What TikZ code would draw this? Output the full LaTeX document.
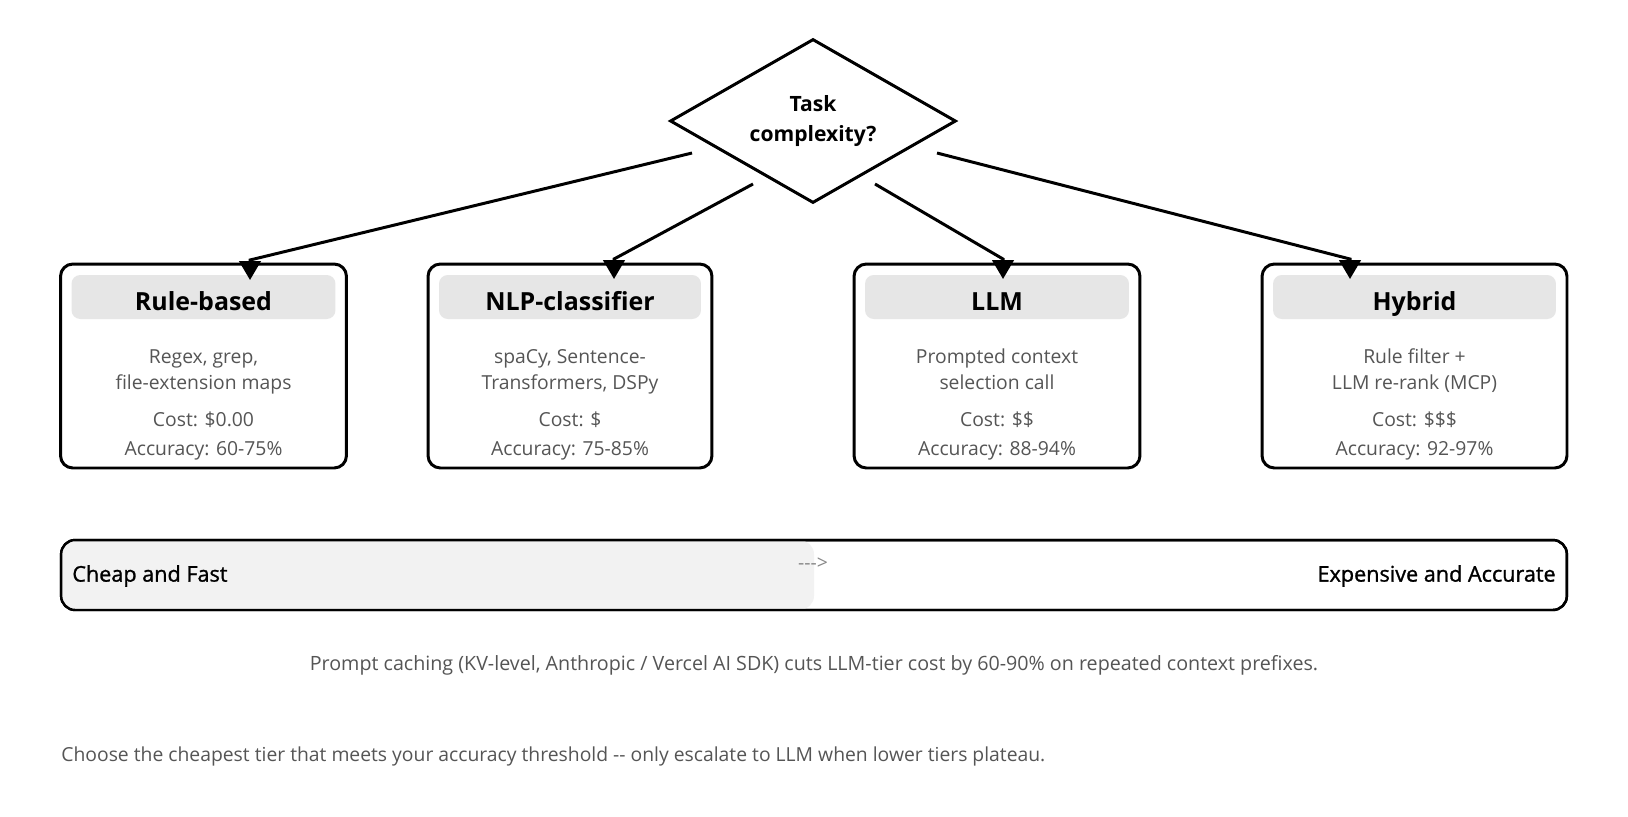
\documentclass[tikz,border=0pt]{standalone}
\usepackage{fontspec}
\setmainfont{Open Sans}
\newfontfamily\medfont[FakeBold=1.2]{Open Sans}
\usepackage{tikz}
\usetikzlibrary{arrows.meta,positioning,calc,shapes.geometric}
\definecolor{headgray}{HTML}{E6E6E6}
\definecolor{barfill}{HTML}{F2F2F2}
\definecolor{bodytext}{HTML}{555555}
\definecolor{hinttext}{HTML}{888888}
\tikzset{
  >={Triangle[length=3.8mm,width=4.3mm]},
  % beslut
  decide/.style={diamond,draw=black,line width=1.7pt,fill=white,inner sep=0pt,
                 aspect=1.744,minimum width=5.72cm,minimum height=3.28cm,
                 align=center,font=\fontsize{12}{17.6}\selectfont\bfseries},
  link/.style={->,draw=black,line width=1.7pt},
  % nivåer
  tier/.style={draw=black,line width=1.7pt,fill=white,rounded corners=7pt,
               minimum height=4.08cm,inner sep=0pt},
  tierhead/.style={fill=headgray,rounded corners=5pt,minimum height=0.88cm,inner sep=0pt},
  tiertitle/.style={anchor=base,font=\fontsize{14.2}{17}\selectfont\bfseries,inner sep=0pt},
  tiertext/.style={anchor=base,font=\fontsize{11}{13}\selectfont,text=bodytext,inner sep=0pt},
  % skala
  scalebar/.style={draw=black,line width=1.4pt,rounded corners=8pt,
                   minimum width=30.12cm,minimum height=1.4cm,inner sep=0pt},
  scaletext/.style={font=\fontsize{12.3}{14}\medfont,inner sep=0pt},
  note/.style={font=\fontsize{11.2}{13}\selectfont,text=bodytext,inner sep=0pt},
}
\begin{document}
\begin{tikzpicture}[x=0.02cm,y=-0.02cm]
  \useasboundingbox[fill=white] (0,0) rectangle (1628,816);
  % beslut
  \node[decide] (q) at (813,121) {Task\\complexity?};
  % nivåer
  \node[tier,minimum width=5.72cm] (rule) at (203.5,366) {};
  \node[tier,minimum width=5.68cm] (nlp) at (570,366) {};
  \node[tier,minimum width=5.72cm] (llm) at (997,366) {};
  \node[tier,minimum width=6.10cm] (hyb) at (1414.5,366) {};
  \node[tierhead,minimum width=5.28cm] (rule-h) at (203.5,297) {};
  \node[tierhead,minimum width=5.24cm] (nlp-h) at (570,297) {};
  \node[tierhead,minimum width=5.28cm] (llm-h) at (997,297) {};
  \node[tierhead,minimum width=5.66cm] (hyb-h) at (1414.5,297) {};
  \node[tiertitle] (rule-t) at (203.5,310) {Rule-based};
  \node[tiertitle] (nlp-t) at (570,310) {NLP-classifier};
  \node[tiertitle] (llm-t) at (997,310) {LLM};
  \node[tiertitle] (hyb-t) at (1414.5,310) {Hybrid};
  \node[tiertext] (rule-a) at (203.5,363) {Regex, grep,};
  \node[tiertext] (rule-b) at (203.5,389) {file-extension maps};
  \node[tiertext] (rule-c) at (203.5,426) {Cost: \$0.00};
  \node[tiertext] (rule-d) at (203.5,455) {Accuracy: 60-75\%};
  \node[tiertext] (nlp-a) at (570,363) {spaCy, Sentence-};
  \node[tiertext] (nlp-b) at (570,389) {Transformers, DSPy};
  \node[tiertext] (nlp-c) at (570,426) {Cost: \$};
  \node[tiertext] (nlp-d) at (570,455) {Accuracy: 75-85\%};
  \node[tiertext] (llm-a) at (997,363) {Prompted context};
  \node[tiertext] (llm-b) at (997,389) {selection call};
  \node[tiertext] (llm-c) at (997,426) {Cost: \$\$};
  \node[tiertext] (llm-d) at (997,455) {Accuracy: 88-94\%};
  \node[tiertext] (hyb-a) at (1414.5,363) {Rule filter +};
  \node[tiertext] (hyb-b) at (1414.5,389) {LLM re-rank (MCP)};
  \node[tiertext] (hyb-c) at (1414.5,426) {Cost: \$\$\$};
  \node[tiertext] (hyb-d) at (1414.5,455) {Accuracy: 92-97\%};
  % pilar
  \coordinate (s1) at (692,153);
  \coordinate (s2) at (753,184);
  \coordinate (s3) at (875,184);
  \coordinate (s4) at (937,153);
  \coordinate (t1) at (250,280);
  \coordinate (t2) at (614,279);
  \coordinate (t3) at (1003,279);
  \coordinate (t4) at (1350,279);
  \draw[link] (s1) -- ($(t1)+(0,-20)$) -- (t1);
  \draw[link] (s2) -- ($(t2)+(0,-20)$) -- (t2);
  \draw[link] (s3) -- ($(t3)+(0,-20)$) -- (t3);
  \draw[link] (s4) -- ($(t4)+(0,-20)$) -- (t4);
  % skala
  \node[scalebar] (bar) at (814,575) {};
  \fill[barfill,rounded corners=8pt] ($(bar.north west)+(1.5,1.5)$) rectangle ($(bar.south)+(0,-1.5)$);
  \node[scalebar] at (bar.center) {};
  \node[font=\fontsize{11}{13}\selectfont,text=hinttext,inner sep=0pt] (dir) at (813,564) {-{}-{}->};
  \node[scaletext,anchor=west] (cheap) at (72,576) {Cheap and Fast};
  \node[scaletext,anchor=east] (costly) at (1556,576) {Expensive and Accurate};
  % noter
  \node[note] (cache) at (814,665) {Prompt caching (KV-level, Anthropic / Vercel AI SDK) cuts LLM-tier cost by 60-90\% on repeated context prefixes.};
  \node[note,anchor=west,font=\fontsize{11}{13}\selectfont] (advice) at (61,756) {Choose the cheapest tier that meets your accuracy threshold -{}- only escalate to LLM when lower tiers plateau.};
\end{tikzpicture}
\end{document}
